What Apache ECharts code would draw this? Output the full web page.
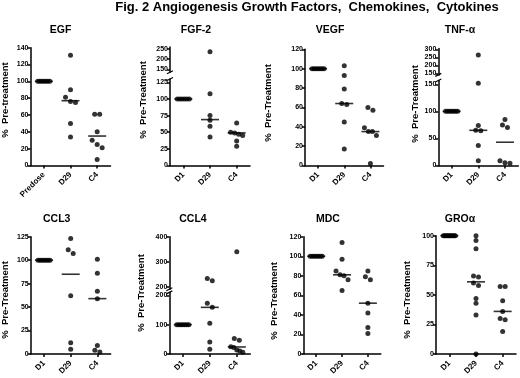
<!DOCTYPE html>
<html><head><meta charset="utf-8">
<script src="https://cdn.jsdelivr.net/npm/echarts@6/dist/echarts.min.js"></script>
<style>html,body{margin:0;padding:0;background:#fff}#c{width:520px;height:378px}</style>
</head><body><div id="c"></div><script>
// ---------------- data ----------------
const mainTitle = 'Fig. 2 Angiogenesis Growth Factors,  Chemokines,  Cytokines';
const catsEGF = ['Predose', 'D29', 'C4'];
const cats = ['D1', 'D29', 'C4'];

const egfPre = [100, 100, 100, 100, 100, 100, 100];
const egfD29 = [131, 90, 81, 76, 75, 50, 34];
const egfC4 = [61, 61, 40, 30, 25, 21, 7];
const egfLine = [100, 77, 35];
const egfTicks = [0, 20, 40, 60, 80, 100, 120, 140];

const fgfD1 = [100, 100, 100, 100, 100, 100];
const fgfD29 = [237, 108, 75, 68, 59, 43];
const fgfC4 = [64, 50, 49, 47, 45, 37, 29];
const fgfLine = [100, 69, 49];
const fgfTicksLow = [0, 25, 50, 75, 100, 125];
const fgfTicksHigh = [150, 200, 250];

const vegfD1 = [100, 100, 100, 100, 100, 100, 100];
const vegfD29 = [103, 93, 79, 64, 63, 45, 17];
const vegfC4 = [60, 57, 39, 35, 35, 31, 2];
const vegfLine = [100, 64, 35];
const vegfTicks = [0, 20, 40, 60, 80, 100, 120];

const tnfD1 = [100, 100, 100, 100, 100, 100, 100];
const tnfD29 = [265, 152, 74, 65, 64, 37, 9];
const tnfC4 = [85, 75, 70, 9, 5, 4];
const tnfLine = [100, 65, 43];
const tnfTicksLow = [0, 50, 100, 150];
const tnfTicksHigh = [150, 200, 250, 300];

const ccl3D1 = [100, 100, 100, 100, 100, 100, 100];
const ccl3D29 = [123, 111, 107, 62, 12, 5];
const ccl3C4 = [101, 86, 67, 59, 9, 4, 2];
const ccl3Line = [100, 85, 59];
const ccl3Ticks = [0, 25, 50, 75, 100, 125];

const ccl4D1 = [100, 100, 100, 100, 100, 100, 100];
const ccl4D29 = [233, 224, 173, 159, 105, 41, 16];
const ccl4C4 = [340, 53, 47, 25, 22, 14, 10, 6];
const ccl4Line = [100, 159, 24];
const ccl4TicksLow = [0, 100, 200];
const ccl4TicksHigh = [200, 300, 400];

const mdcD1 = [100, 100, 100, 100, 100, 100, 100];
const mdcD29 = [114, 97, 85, 81, 80, 76, 65];
const mdcC4 = [85, 79, 76, 52, 42, 27, 21];
const mdcLine = [100, 81, 52];
const mdcTicks = [0, 20, 40, 60, 80, 100, 120];

const groD1 = [100, 100, 100, 100, 100, 100, 100, 100, 100, 100, 100];
const groD29 = [100, 96, 89, 66, 65, 60, 58, 47, 43, 33, 0];
const groC4 = [57, 57, 45, 36, 30, 29, 19];
const groLine = [100, 61, 36];
const groTicks = [0, 25, 50, 75, 100];

// ---------------- layout (positions / styles) ----------------
const FONT = '"Liberation Sans", Arial, Helvetica, sans-serif';
const R1 = 165.5, R2 = 354;
const panels = [
  { title: 'EGF', yname: '%  Pre-treatment', cats: catsEGF, groups: [egfPre, egfD29, egfC4], line: egfLine,
    x: 30.5, w: 80, tx: 60.5, ty: 30, nx: 5, ny: 100,
    segs: [{ min: 0, max: 140, top: 47.7, bottom: R1, ticks: egfTicks }] },
  { title: 'FGF-2', yname: '%  Pre-Treatment', cats: cats, groups: [fgfD1, fgfD29, fgfC4], line: fgfLine,
    x: 170, w: 80, tx: 196, ty: 30, nx: 143, ny: 100,
    segs: [{ min: 0, max: 130, top: 79, bottom: R1, ticks: fgfTicksLow },
           { min: 135, max: 260, top: 47, bottom: 72.3, ticks: fgfTicksHigh }] },
  { title: 'VEGF', yname: '%  Pre-Treatment', cats: cats, groups: [vegfD1, vegfD29, vegfC4], line: vegfLine,
    x: 305, w: 78.5, tx: 330, ty: 30, nx: 268, ny: 103,
    segs: [{ min: 0, max: 120, top: 49.3, bottom: R1, ticks: vegfTicks }] },
  { title: 'TNF-α', yname: '%  Pre-Treatment', cats: cats, groups: [tnfD1, tnfD29, tnfC4], line: tnfLine,
    x: 438.3, w: 80, tx: 460, ty: 30, nx: 415.5, ny: 104,
    segs: [{ min: 0, max: 157, top: 80.5, bottom: R1, ticks: tnfTicksLow },
           { min: 140, max: 305, top: 48.5, bottom: 74.9, ticks: tnfTicksHigh }] },
  { title: 'CCL3', yname: '%  Pre-Treatment', cats: cats, groups: [ccl3D1, ccl3D29, ccl3C4], line: ccl3Line,
    x: 30.7, w: 80, tx: 56.7, ty: 219, nx: 5, ny: 300,
    segs: [{ min: 0, max: 125, top: 236.7, bottom: R2, ticks: ccl3Ticks }] },
  { title: 'CCL4', yname: '%  Pre-Treatment', cats: cats, groups: [ccl4D1, ccl4D29, ccl4C4], line: ccl4Line,
    x: 169.3, w: 81, tx: 193, ty: 219, nx: 141, ny: 293,
    segs: [{ min: 0, max: 210, top: 292.4, bottom: R2, ticks: ccl4TicksLow },
           { min: 190, max: 400, top: 236.7, bottom: 289.2, ticks: ccl4TicksHigh }] },
  { title: 'MDC', yname: '%  Pre-Treatment', cats: cats, groups: [mdcD1, mdcD29, mdcC4], line: mdcLine,
    x: 303.3, w: 77.5, tx: 328, ty: 219, nx: 274.5, ny: 301,
    segs: [{ min: 0, max: 120, top: 236.7, bottom: R2, ticks: mdcTicks }] },
  { title: 'GROα', yname: '%  Pre-Treatment', cats: cats, groups: [groD1, groD29, groC4], line: groLine,
    x: 436, w: 80, tx: 460, ty: 219, nx: 407, ny: 300,
    segs: [{ min: 0, max: 100, top: 235.7, bottom: R2, ticks: groTicks }] }
];

// ---------------- build ----------------
const grid = [], xAxis = [], yAxis = [], series = [], graphic = [];
const DOT = 5;

function segFor(p, v) {
  if (p.segs.length === 1) return 0;
  return v <= p.segs[0].max ? 0 : 1;
}

graphic.push({ type: 'text', x: 307, y: 7, style: { text: mainTitle, fontSize: 13, fontWeight: 'bold', fontFamily: FONT, fill: '#000', align: 'center', verticalAlign: 'middle' } });

panels.forEach(p => {
  graphic.push({ type: 'text', x: p.tx, y: p.ty, style: { text: p.title, fontSize: 10.5, fontWeight: 'bold', fontFamily: FONT, fill: '#000', align: 'center', verticalAlign: 'middle' } });
  graphic.push({ type: 'text', x: p.nx, y: p.ny, rotation: Math.PI / 2, style: { text: p.yname, fontSize: 9.5, fontWeight: 'bold', fontFamily: FONT, fill: '#000', align: 'center', verticalAlign: 'middle' } });

  const gIdx = [];
  p.segs.forEach((s, si) => {
    const g = grid.length;
    gIdx.push(g);
    grid.push({ left: p.x, top: s.top, width: p.w, height: s.bottom - s.top, outerBoundsMode: 'none', containLabel: false });
    if (si === 0) {
      xAxis.push({ gridIndex: g, type: 'category', data: p.cats, boundaryGap: true,
        axisLine: { show: true, onZero: false, lineStyle: { color: '#000', width: 1.5 } },
        axisTick: { show: true, alignWithLabel: true, length: 3, lineStyle: { color: '#000', width: 1.5 } },
        axisLabel: { rotate: 45, interval: 0, fontSize: 8, fontWeight: 'bold', fontFamily: FONT, color: '#000', margin: 8 },
        splitLine: { show: false } });
    } else {
      xAxis.push({ gridIndex: g, type: 'category', data: p.cats, boundaryGap: true, show: false });
    }
    yAxis.push({ gridIndex: g, type: 'value', min: s.min, max: s.max,
      axisLine: { show: true, lineStyle: { color: '#000', width: 1.5 } },
      axisTick: { show: true, length: 3, customValues: s.ticks, lineStyle: { color: '#000', width: 1.5 } },
      axisLabel: { show: true, customValues: s.ticks, fontSize: 7, fontWeight: 'bold', fontFamily: FONT, color: '#000', margin: 2 },
      splitLine: { show: false } });
    if (p.segs.length > 1) {
      const y = si === 0 ? s.top : s.bottom;
      graphic.push({ type: 'line', shape: { x1: p.x - 3, y1: y + 1.5, x2: p.x + 3, y2: y - 1.5 }, style: { stroke: '#000', lineWidth: 1.2 } });
    }
  });

  // dots with simple beeswarm spreading
  const perSeg = p.segs.map(() => []);
  p.groups.forEach((vals, ci) => {
    const bySeg = p.segs.map(() => []);
    vals.forEach(v => bySeg[segFor(p, v)].push(v));
    bySeg.forEach((arr, si) => {
      const s = p.segs[si];
      const k = (s.bottom - s.top) / (s.max - s.min);
      const sorted = arr.slice().sort((a, b) => b - a);
      let cluster = [];
      const flush = () => {
        const n = cluster.length;
        const step = n > 1 ? Math.min(5, 12 / (n - 1)) : 0;
        cluster.forEach((v, j) => {
          perSeg[si].push({ value: [ci, v], symbolOffset: [(j - (n - 1) / 2) * step, 0] });
        });
        cluster = [];
      };
      sorted.forEach(v => {
        if (cluster.length && (cluster[cluster.length - 1] - v) * k >= 4.5) flush();
        cluster.push(v);
      });
      if (cluster.length) flush();
    });
  });
  perSeg.forEach((data, si) => {
    series.push({ type: 'scatter', xAxisIndex: gIdx[si], yAxisIndex: gIdx[si], symbol: 'circle', symbolSize: DOT,
      itemStyle: { color: '#000' }, data: data, clip: false, silent: true, z: 3 });
  });
  const lineSeg = p.segs.map(() => []);
  p.line.forEach((v, ci) => lineSeg[segFor(p, v)].push([ci, v]));
  lineSeg.forEach((data, si) => {
    if (!data.length) return;
    series.push({ type: 'scatter', xAxisIndex: gIdx[si], yAxisIndex: gIdx[si], symbol: 'rect', symbolSize: [18, 1.6],
      itemStyle: { color: '#000' }, data: data, clip: false, silent: true, z: 4 });
  });
});

const chart = echarts.init(document.getElementById('c'), null, { renderer: 'canvas' });
chart.setOption({ animation: false, backgroundColor: '#fff', grid, xAxis, yAxis, series, graphic });
</script></body></html>
